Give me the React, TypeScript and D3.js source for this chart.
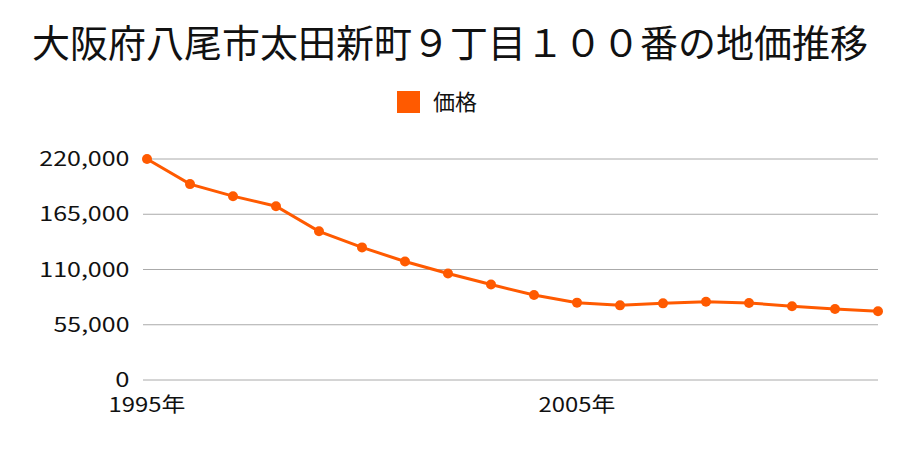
import React from "react";
import * as d3 from "d3";

const years = [1995,1996,1997,1998,1999,2000,2001,2002,2003,2004,2005,2006,2007,2008,2009,2010,2011,2012];
const prices = [220000,195000,183000,173000,148000,132000,118000,106000,95000,84600,77000,74300,76300,77900,76700,73400,70700,68400];
const yTicks = [0,55000,110000,165000,220000];
const xTickYears = [1995,2005];
const title = "大阪府八尾市太田新町９丁目１００番の地価推移";
const seriesName = "価格";

const W = 900, H = 450;
const FONT = "'Noto Sans CJK JP', 'Noto Sans', sans-serif";
const COLOR = "#ff5a00";

function numWidth(s: string) {
  let w = 0;
  for (const c of s) w += c === "," ? 5 : c === "年" ? 20 : 14.2;
  return w;
}

export default function App() {
  const x = d3.scaleLinear().domain([1995, 2012]).range([147, 878]);
  const y = d3.scaleLinear().domain([0, 220000]).range([380, 159]);
  const line = d3.line<number>().x((_, i) => x(years[i])).y(d => y(d));
  const fmt = d3.format(",");
  return (
    <svg width={W} height={H} style={{ position: "absolute", left: 0, top: 0 }} fontFamily={FONT}>
      <rect width={W} height={H} fill="#fff" />
      <text x={450} y={57} textAnchor="middle" fontSize={38} fill="#111">{title}</text>
      <rect x={397} y={91} width={23} height={22} fill={COLOR} />
      <text x={433} y={110} fontSize={22} fill="#111">{seriesName}</text>
      {yTicks.map(t => {
        const s = fmt(t);
        return (
          <g key={t}>
            <line x1={143} x2={878} y1={y(t)} y2={y(t)} stroke="#aaa" strokeWidth={1} />
            <text x={129.5 - numWidth(s)} y={y(t) + 7} fontSize={20} fill="#111"
              textLength={numWidth(s)} lengthAdjust="spacingAndGlyphs">{s}</text>
          </g>
        );
      })}
      {xTickYears.map(t => {
        const s = `${t}年`;
        const w = numWidth(s);
        return (
          <text key={t} x={x(t) - w / 2} y={412} fontSize={20} fill="#111"
            textLength={w} lengthAdjust="spacingAndGlyphs">{s}</text>
        );
      })}
      <path d={line(prices) || ""} fill="none" stroke={COLOR} strokeWidth={3} />
      {prices.map((p, i) => (
        <circle key={i} cx={x(years[i])} cy={y(p)} r={5} fill={COLOR} />
      ))}
    </svg>
  );
}
